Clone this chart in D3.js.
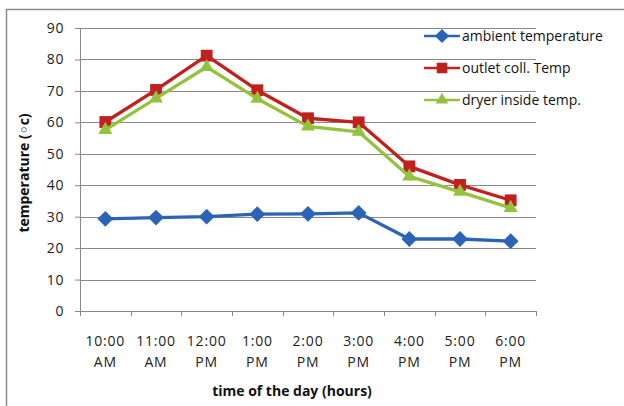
<!DOCTYPE html>
<html><head><meta charset="utf-8">
<script src="https://cdn.jsdelivr.net/npm/d3@7"></script>
<style>body{margin:0;background:#fff}svg{display:block}</style>
</head><body>
<svg id="c" width="624" height="406"></svg>
<script>
const categories = ["10:00 AM","11:00 AM","12:00 PM","1:00 PM","2:00 PM","3:00 PM","4:00 PM","5:00 PM","6:00 PM"];
const ambient = [29.3, 29.7, 30.0, 30.8, 30.9, 31.2, 22.9, 22.9, 22.2];
const outlet  = [60.1, 70.3, 81.2, 70.2, 61.3, 60.0, 46.0, 40.1, 35.2];
const dryer   = [57.6, 67.6, 77.6, 67.5, 58.7, 57.0, 42.8, 37.9, 32.8];
const yTicks = [0,10,20,30,40,50,60,70,80,90];
const seriesNames = ["ambient temperature","outlet coll. Temp","dryer inside temp."];

const svg = d3.select("#c");
const font = "'Open Sans', 'DejaVu Sans', sans-serif";
const pLeft = 80, pRight = 536, pTop = 28, pBottom = 311;

svg.append("rect").attr("x",6.5).attr("y",9.5).attr("width",700).attr("height",500)
  .attr("fill","none").attr("stroke","#8c8c8c").attr("stroke-width",1.5);

const x = d3.scaleBand().domain(categories).range([pLeft,pRight]);
const y = d3.scaleLinear().domain([0,90]).range([pBottom,pTop]);

// gridlines
svg.append("g").selectAll("line").data(yTicks.filter(d=>d>0)).join("line")
  .attr("x1",pLeft).attr("x2",pRight).attr("y1",d=>Math.round(y(d))+0.5).attr("y2",d=>Math.round(y(d))+0.5)
  .attr("stroke","#888").attr("stroke-width",1);

// y axis
const ya = svg.append("g").attr("transform",`translate(${pLeft},0)`)
  .call(d3.axisLeft(y).tickValues(yTicks).tickSize(5).tickPadding(11).tickSizeOuter(0));
ya.select(".domain").attr("stroke","#888");
ya.selectAll(".tick line").attr("stroke","#888");
ya.selectAll("text").attr("font-family",font).attr("font-size",14).attr("letter-spacing",0.6).attr("fill","#222");

// x axis
const xa = svg.append("g").attr("transform",`translate(0,${pBottom})`)
  .call(d3.axisBottom(x).tickValues([]).tickSizeOuter(0));
xa.select(".domain").attr("stroke","#888");
const bounds = categories.map(c=>x(c)).concat([pRight]);
xa.selectAll(".bt").data(bounds).join("line").attr("class","bt")
  .attr("x1",d=>Math.round(d)+0.5).attr("x2",d=>Math.round(d)+0.5).attr("y1",0).attr("y2",5).attr("stroke","#888");

const lbl = svg.append("g").selectAll("text").data(categories).join("text")
  .attr("x",d=>x(d)+x.bandwidth()/2).attr("y",346).attr("text-anchor","middle")
  .attr("font-family",font).attr("font-size",14).attr("letter-spacing",0.8).attr("fill","#222");
lbl.each(function(d){
  const parts = d.split(" ");
  const t = d3.select(this);
  t.append("tspan").attr("x",x(d)+x.bandwidth()/2).attr("dy",0).text(parts[0]);
  t.append("tspan").attr("x",x(d)+x.bandwidth()/2).attr("dy",21).text(parts[1]);
});

// axis titles
svg.append("text").attr("x",292).attr("y",396).attr("text-anchor","middle")
  .attr("font-family",font).attr("font-size",14).attr("font-weight","bold").attr("fill","#111")
  .text("time of the day  (hours)");
svg.append("text").attr("transform","translate(29,173) rotate(-90)").attr("text-anchor","middle")
  .attr("font-family",font).attr("font-size",14).attr("font-weight","bold").attr("fill","#111")
  .text("temperature (\u25E6c)");

const series = [
  {name:seriesNames[0], values:ambient, color:"#2b63b6", sym:d3.symbolDiamond2, size:160},
  {name:seriesNames[1], values:outlet, color:"#c0211f", sym:d3.symbolSquare, size:140},
  {name:seriesNames[2], values:dryer, color:"#94c23c", sym:d3.symbolTriangle, size:85}
];
const line = d3.line().x((d,i)=>x(categories[i])+x.bandwidth()/2).y(d=>y(d));

[series[1], series[2], series[0]].forEach(s=>{
  svg.append("path").datum(s.values).attr("d",line).attr("fill","none")
    .attr("stroke",s.color).attr("stroke-width",3.3).attr("stroke-linejoin","round");
  svg.append("g").selectAll("path").data(s.values).join("path")
    .attr("d",d3.symbol().type(s.sym).size(s.size))
    .attr("transform",(d,i)=>`translate(${x(categories[i])+x.bandwidth()/2},${y(d)})`)
    .attr("fill",s.color);
});

// legend
const lg = svg.append("g");
series.forEach((s,i)=>{
  const ly = 36 + i*32;
  lg.append("line").attr("x1",424).attr("x2",460).attr("y1",ly).attr("y2",ly)
    .attr("stroke",s.color).attr("stroke-width",2.5);
  lg.append("path").attr("d",d3.symbol().type(s.sym).size(s.size*0.8))
    .attr("transform",`translate(442,${ly})`).attr("fill",s.color);
  lg.append("text").attr("x",462).attr("y",ly+5).attr("font-family",font).attr("font-size",14)
    .attr("fill","#111").text(s.name);
});
</script>
</body></html>
